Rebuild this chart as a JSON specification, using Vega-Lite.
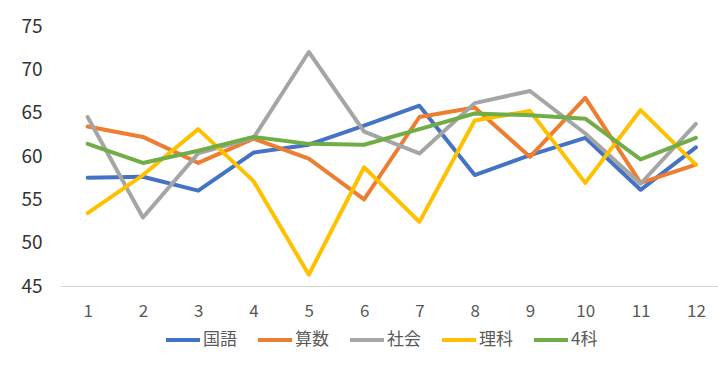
{
  "$schema": "https://vega.github.io/schema/vega-lite/v6.json",
  "width": 658,
  "height": 260,
  "autosize": "none",
  "padding": {"left": 60, "top": 26, "right": 0, "bottom": 79},
  "background": "white",
  "config": {
    "view": {"stroke": null},
    "font": "Noto Sans CJK JP"
  },
  "data": {
    "values": [
      {"回": 1, "教科": "国語", "点": 57.5},
      {"回": 2, "教科": "国語", "点": 57.6},
      {"回": 3, "教科": "国語", "点": 56.0},
      {"回": 4, "教科": "国語", "点": 60.4},
      {"回": 5, "教科": "国語", "点": 61.3},
      {"回": 6, "教科": "国語", "点": 63.5},
      {"回": 7, "教科": "国語", "点": 65.8},
      {"回": 8, "教科": "国語", "点": 57.8},
      {"回": 9, "教科": "国語", "点": 60.1},
      {"回": 10, "教科": "国語", "点": 62.1},
      {"回": 11, "教科": "国語", "点": 56.1},
      {"回": 12, "教科": "国語", "点": 61.0},
      {"回": 1, "教科": "算数", "点": 63.4},
      {"回": 2, "教科": "算数", "点": 62.2},
      {"回": 3, "教科": "算数", "点": 59.2},
      {"回": 4, "教科": "算数", "点": 62.0},
      {"回": 5, "教科": "算数", "点": 59.7},
      {"回": 6, "教科": "算数", "点": 55.0},
      {"回": 7, "教科": "算数", "点": 64.5},
      {"回": 8, "教科": "算数", "点": 65.6},
      {"回": 9, "教科": "算数", "点": 59.9},
      {"回": 10, "教科": "算数", "点": 66.7},
      {"回": 11, "教科": "算数", "点": 56.9},
      {"回": 12, "教科": "算数", "点": 59.0},
      {"回": 1, "教科": "社会", "点": 64.5},
      {"回": 2, "教科": "社会", "点": 52.9},
      {"回": 3, "教科": "社会", "点": 60.3},
      {"回": 4, "教科": "社会", "点": 62.1},
      {"回": 5, "教科": "社会", "点": 72.0},
      {"回": 6, "教科": "社会", "点": 62.8},
      {"回": 7, "教科": "社会", "点": 60.3},
      {"回": 8, "教科": "社会", "点": 66.1},
      {"回": 9, "教科": "社会", "点": 67.5},
      {"回": 10, "教科": "社会", "点": 62.6},
      {"回": 11, "教科": "社会", "点": 56.8},
      {"回": 12, "教科": "社会", "点": 63.7},
      {"回": 1, "教科": "理科", "点": 53.4},
      {"回": 2, "教科": "理科", "点": 57.8},
      {"回": 3, "教科": "理科", "点": 63.1},
      {"回": 4, "教科": "理科", "点": 57.1},
      {"回": 5, "教科": "理科", "点": 46.3},
      {"回": 6, "教科": "理科", "点": 58.7},
      {"回": 7, "教科": "理科", "点": 52.4},
      {"回": 8, "教科": "理科", "点": 64.1},
      {"回": 9, "教科": "理科", "点": 65.2},
      {"回": 10, "教科": "理科", "点": 56.9},
      {"回": 11, "教科": "理科", "点": 65.3},
      {"回": 12, "教科": "理科", "点": 59.0},
      {"回": 1, "教科": "4科", "点": 61.4},
      {"回": 2, "教科": "4科", "点": 59.2},
      {"回": 3, "教科": "4科", "点": 60.6},
      {"回": 4, "教科": "4科", "点": 62.2},
      {"回": 5, "教科": "4科", "点": 61.4},
      {"回": 6, "教科": "4科", "点": 61.3},
      {"回": 7, "教科": "4科", "点": 63.1},
      {"回": 8, "教科": "4科", "点": 64.9},
      {"回": 9, "教科": "4科", "点": 64.7},
      {"回": 10, "教科": "4科", "点": 64.3},
      {"回": 11, "教科": "4科", "点": 59.6},
      {"回": 12, "教科": "4科", "点": 62.1}
    ]
  },
  "mark": {"type": "line", "strokeWidth": 4, "strokeJoin": "round", "strokeCap": "round"},
  "encoding": {
    "x": {
      "field": "回",
      "type": "quantitative",
      "scale": {"domain": [0.5, 12.4], "nice": false, "zero": false},
      "axis": {
        "title": null,
        "values": [1, 2, 3, 4, 5, 6, 7, 8, 9, 10, 11, 12],
        "format": "d",
        "grid": false,
        "ticks": false,
        "domainColor": "#d9d9d9",
        "domainWidth": 1.2,
        "labelFontSize": 17,
        "labelColor": "#595959",
        "labelPadding": 17,
        "labelFont": "Noto Sans CJK JP"
      }
    },
    "y": {
      "field": "点",
      "type": "quantitative",
      "scale": {"domain": [45, 75], "nice": false, "zero": false},
      "axis": {
        "title": null,
        "values": [45, 50, 55, 60, 65, 70, 75],
        "grid": false,
        "ticks": false,
        "domain": false,
        "labelFontSize": 19,
        "labelColor": "#333333",
        "labelPadding": 18,
        "labelFont": "Noto Sans CJK JP"
      }
    },
    "color": {
      "field": "教科",
      "type": "nominal",
      "sort": null,
      "scale": {
        "domain": ["国語", "算数", "社会", "理科", "4科"],
        "range": ["#4472C4", "#ED7D31", "#A5A5A5", "#FFC000", "#70AD47"]
      },
      "legend": {
        "title": null,
        "orient": "none",
        "direction": "horizontal",
        "legendX": 104,
        "legendY": 295,
        "symbolType": "stroke",
        "symbolStrokeWidth": 4,
        "symbolSize": 1156,
        "labelFontSize": 17,
        "labelColor": "#595959",
        "labelOffset": 1,
        "columnPadding": 13,
        "labelFont": "Noto Sans CJK JP"
      }
    }
  }
}
